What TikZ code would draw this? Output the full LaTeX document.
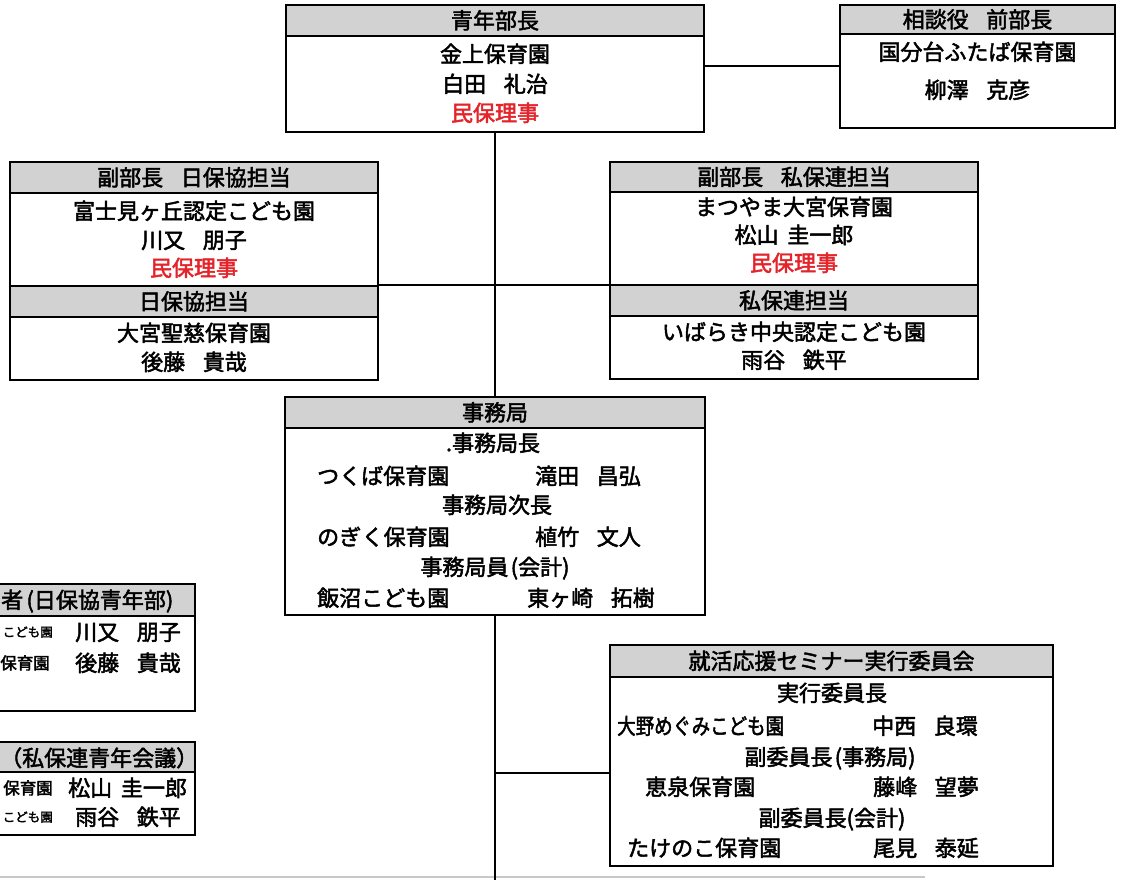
\documentclass[tikz,border=0pt]{standalone}
\usepackage{fontspec}
\usepackage{graphicx}
\newfontfamily\jp[FakeBold=2.2]{Noto Sans CJK JP}
\definecolor{hdrgray}{RGB}{210,210,210}
\definecolor{minred}{RGB}{228,36,42}
\definecolor{faintline}{RGB}{200,200,200}
\newcommand{\jgap}{\hspace{0.8em}}
\newcommand{\sgap}{\hspace{0.4em}}
\tikzset{
  orgbox/.style={draw=black, line width=2.2pt, inner sep=0pt},
  orghead/.style={draw=black, line width=2.2pt, fill=hdrgray, inner sep=0pt,
    font=\jp\fontsize{22}{24}\selectfont, text height=18pt, text depth=1.6pt},
  jtxt/.style={inner sep=0pt, font=\jp\fontsize{22}{24}\selectfont, text height=18pt, text depth=1.6pt},
  jmd/.style={inner sep=0pt, font=\jp\fontsize{16.5}{18}\selectfont, text height=13.6pt, text depth=1.2pt},
  jsm/.style={inner sep=0pt, font=\jp\fontsize{12.5}{14}\selectfont, text height=10.3pt, text depth=0.9pt},
  redtext/.style={text=minred},
  link/.style={draw=black, line width=2pt},
}
\begin{document}
\begin{tikzpicture}[x=1pt,y=-1pt]
\useasboundingbox (0,0) rectangle (1122,880);
\clip (0,0) rectangle (1122,880);
\fill[white] (0,0) rectangle (1122,880);

% faint edge of a box below (scan)
\coordinate (fl1) at (0,877);
\coordinate (fl2) at (925,877);
\draw[faintline, line width=1.5pt] (fl1) -- (fl2);

% ---------- boxes ----------
% A: 青年部長
\node[orgbox, minimum width=418pt, minimum height=127pt] (A) at (495,68.5) {};
\node[orghead, minimum width=418pt, minimum height=31pt, anchor=north] (Ah) at (A.north) {青年部長};
\node[jtxt] (A1) at (495,54) {金上保育園};
\node[jtxt] (A2) at (495,84) {白田\jgap 礼治};
\node[jtxt, redtext] (A3) at (495,113) {民保理事};

% B: 相談役
\node[orgbox, minimum width=275pt, minimum height=123pt] (B) at (977.5,66.5) {};
\node[orghead, minimum width=275pt, minimum height=29pt, anchor=north] (Bh) at (B.north) {相談役\jgap 前部長};
\node[jtxt] (B1) at (977.5,52) {国分台ふたば保育園};
\node[jtxt] (B2) at (977.5,90) {柳澤\jgap 克彦};

% C: 副部長 日保協担当
\node[orgbox, minimum width=368pt, minimum height=218pt] (C) at (194,271) {};
\node[orghead, minimum width=368pt, minimum height=31pt, anchor=north] (Ch) at (C.north) {副部長\jgap 日保協担当};
\node[jtxt] (C1) at (194,211) {富士見ヶ丘認定こども園};
\node[jtxt] (C2) at (194,240) {川又\jgap 朋子};
\node[jtxt, redtext] (C3) at (194,268) {民保理事};
\node[orghead, minimum width=368pt, minimum height=31pt] (Ch2) at (194,301.5) {日保協担当};
\node[jtxt] (C4) at (194,333) {大宮聖慈保育園};
\node[jtxt] (C5) at (194,362) {後藤\jgap 貴哉};

% D: 副部長 私保連担当
\node[orgbox, minimum width=368pt, minimum height=217pt] (D) at (794,270.5) {};
\node[orghead, minimum width=368pt, minimum height=30pt, anchor=north] (Dh) at (D.north) {副部長\jgap 私保連担当};
\node[jtxt] (D1) at (794,207) {まつやま大宮保育園};
\node[jtxt] (D2) at (794,235) {松山\sgap 圭一郎};
\node[jtxt, redtext] (D3) at (794,263) {民保理事};
\node[orghead, minimum width=368pt, minimum height=31pt] (Dh2) at (794,300.5) {私保連担当};
\node[jtxt] (D4) at (794,332) {いばらき中央認定こども園};
\node[jtxt] (D5) at (794,360) {雨谷\jgap 鉄平};

% E: 事務局
\node[orgbox, minimum width=420pt, minimum height=218pt] (E) at (495,506) {};
\node[orghead, minimum width=420pt, minimum height=31pt, anchor=north] (Eh) at (E.north) {事務局};
\node[jtxt] (E1) at (493,443) {.事務局長};
\node[jtxt, anchor=west] (E2) at (317,476) {つくば保育園};
\node[jtxt, anchor=west] (E3) at (535,476) {滝田\jgap 昌弘};
\node[jtxt] (E4) at (497,505) {事務局次長};
\node[jtxt, anchor=west] (E5) at (317,537) {のぎく保育園};
\node[jtxt, anchor=west] (E6) at (535,537) {植竹\jgap 文人};
\node[jtxt] (E7) at (495,567) {事務局員\hspace{0.1em}(会計)};
\node[jtxt, anchor=west] (E8) at (317,598) {飯沼こども園};
\node[jtxt, anchor=west] (E9) at (527,598) {東ヶ崎\jgap 拓樹};

% F: 就活応援セミナー実行委員会
\node[orgbox, minimum width=443pt, minimum height=221pt] (F) at (831.5,755.5) {};
\node[orghead, minimum width=443pt, minimum height=32pt, anchor=north] (Fh) at (F.north) {就活応援セミナー実行委員会};
\node[jtxt] (F1) at (832,693) {実行委員長};
\node[jtxt, anchor=west] (F2) at (617,726) {\scalebox{0.84}[1]{大野めぐみこども園}};
\node[jtxt, anchor=west] (F3) at (872,726) {中西\jgap 良環};
\node[jtxt] (F4) at (830,757) {副委員長\hspace{0.1em}(事務局)};
\node[jtxt, anchor=west] (F5) at (645,787) {恵泉保育園};
\node[jtxt, anchor=west] (F6) at (873,787) {藤峰\jgap 望夢};
\node[jtxt] (F7) at (832,818) {副委員長(会計)};
\node[jtxt, anchor=west] (F8) at (627,848) {たけのこ保育園};
\node[jtxt, anchor=west] (F9) at (873,848) {尾見\jgap 泰延};

% G: left partial box (日保協青年部)
\node[orgbox, minimum width=255pt, minimum height=127pt] (G) at (67.5,647.5) {};
\node[orghead, minimum width=255pt, minimum height=32pt, anchor=north] (Gh) at (G.north) {};
\node[jtxt, anchor=west] (Gt) at (1,600) {者\hspace{0.15em}(日保協青年部)};
\node[jsm, anchor=east] (G1) at (53,632) {こども園};
\node[jtxt, anchor=west] (G2) at (75,632) {川又\jgap 朋子};
\node[jmd, anchor=east] (G3) at (50,663) {保育園};
\node[jtxt, anchor=west] (G4) at (75,663) {後藤\jgap 貴哉};

% H: left partial box (私保連青年会議)
\node[orgbox, minimum width=255pt, minimum height=93pt] (H) at (67.5,788.5) {};
\node[orghead, minimum width=255pt, minimum height=30pt, anchor=north] (Hh) at (H.north) {};
\node[jtxt, anchor=west] (Ht) at (0,758) {（私保連青年会議）};
\node[jmd, anchor=east] (H1) at (53,788) {保育園};
\node[jtxt, anchor=west] (H2) at (68,788) {松山\sgap 圭一郎};
\node[jsm, anchor=east] (H3) at (53,817) {こども園};
\node[jtxt, anchor=west] (H4) at (75,817) {雨谷\jgap 鉄平};

% ---------- connectors ----------
\coordinate (bot) at (495,880);
\coordinate (fj) at (495,773);
\draw[link] (A.south) -- (E.north);
\draw[link] (A.east |- B.west) -- (B.west);
\draw[link] (Ch2.north east) -- (Ch2.north east -| Dh2.west);
\draw[link] (E.south) -- (bot);
\draw[link] (fj) -- (fj -| F.west);
\end{tikzpicture}
\end{document}
